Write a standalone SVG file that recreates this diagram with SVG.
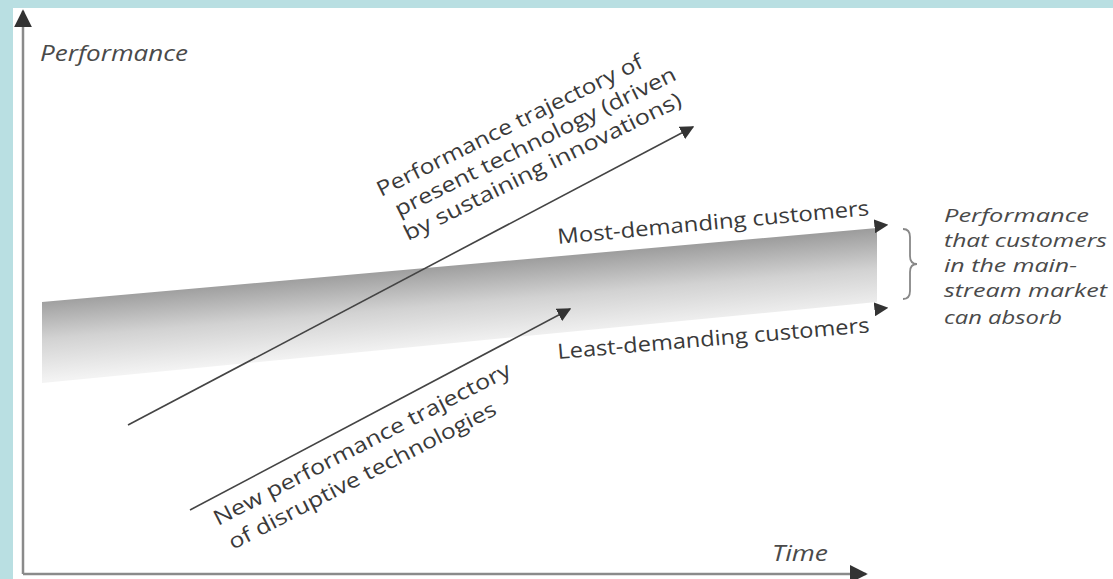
<svg xmlns="http://www.w3.org/2000/svg" width="1113" height="579" viewBox="0 0 1113 579">
<defs>
<style>
.lbl{font-family:"Open Sans","DejaVu Sans",sans-serif;font-size:21px;fill:#3a3a3a}
.it{font-family:"Open Sans","DejaVu Sans",sans-serif;font-style:italic;font-size:21px;fill:#4a4a4a}
.rt{font-family:"Open Sans","DejaVu Sans",sans-serif;font-style:italic;font-size:19px;fill:#4a4a4a}
.axis{stroke:#8a8a8a;stroke-width:2.5;fill:none}
.traj{stroke:#444;stroke-width:1.6;fill:none}
</style>
<marker id="ah" viewBox="0 0 10 10" refX="9" refY="5" markerWidth="14" markerHeight="14" markerUnits="userSpaceOnUse" orient="auto">
<path d="M0,0 L10,5 L0,10 z" fill="#333"/>
</marker>
<marker id="axh" viewBox="0 0 10 10" refX="9" refY="5" markerWidth="18" markerHeight="18" markerUnits="userSpaceOnUse" orient="auto">
<path d="M0,0 L10,5 L0,10 z" fill="#333"/>
</marker>
<linearGradient id="band" gradientUnits="userSpaceOnUse" x1="460" y1="262" x2="467" y2="345">
<stop offset="0" stop-color="#9a9a9a"/>
<stop offset="0.5" stop-color="#d2d2d2"/>
<stop offset="1" stop-color="#f3f3f3"/>
</linearGradient>
</defs>
<rect x="0" y="0" width="1113" height="579" fill="#b9dfe2"/>
<rect x="13" y="8" width="1100" height="571" fill="#ffffff"/>

<g id="band-area">
<polygon points="42,302 877,228 877,302 42,383" fill="url(#band)"/>
</g>

<g id="axes">
<line class="axis" x1="23" y1="574" x2="23" y2="11" marker-end="url(#axh)"/>
<line class="axis" x1="23" y1="574" x2="866" y2="574" marker-end="url(#axh)"/>
<text class="it" x="40" y="61" textLength="148" lengthAdjust="spacingAndGlyphs">Performance</text>
<text class="it" x="772" y="561" textLength="56" lengthAdjust="spacingAndGlyphs">Time</text>
</g>

<g id="connectors">
<line class="traj" x1="128" y1="425" x2="693" y2="127" marker-end="url(#ah)"/>
<line class="traj" x1="190" y1="510" x2="570" y2="309" marker-end="url(#ah)"/>
<line stroke="none" x1="877" y1="226" x2="887" y2="225" marker-end="url(#ah)"/>
<line stroke="none" x1="877" y1="309" x2="887" y2="308" marker-end="url(#ah)"/>
</g>

<g id="present-label">
<text class="lbl" transform="translate(381,197) rotate(-26.3)" textLength="294" lengthAdjust="spacingAndGlyphs">Performance trajectory of</text>
<text class="lbl" transform="translate(399,217) rotate(-26.3)" textLength="311" lengthAdjust="spacingAndGlyphs">present technology (driven</text>
<text class="lbl" transform="translate(408,241) rotate(-26.3)" textLength="307" lengthAdjust="spacingAndGlyphs">by sustaining innovations)</text>
</g>

<g id="disruptive-label">
<text class="lbl" transform="translate(218,526) rotate(-27.2)" textLength="331" lengthAdjust="spacingAndGlyphs">New performance trajectory</text>
<text class="lbl" transform="translate(233,550) rotate(-27.2)" textLength="298" lengthAdjust="spacingAndGlyphs">of disruptive technologies</text>
</g>

<g id="most-demanding">
<text class="lbl" transform="translate(558,244) rotate(-5.3)" textLength="313" lengthAdjust="spacingAndGlyphs">Most-demanding customers</text>
</g>
<g id="least-demanding">
<text class="lbl" transform="translate(558,359) rotate(-4.9)" textLength="313" lengthAdjust="spacingAndGlyphs">Least-demanding customers</text>
</g>

<g id="brace">
<path d="M903,229 Q910,229 910,237 L910,256 Q910,264 917,264 Q910,264 910,272 L910,291 Q910,299 903,299" stroke="#888" stroke-width="1.8" fill="none"/>
</g>

<g id="absorb-label">
<text class="rt" x="944" y="222" textLength="145" lengthAdjust="spacingAndGlyphs">Performance</text>
<text class="rt" x="944" y="247" textLength="163" lengthAdjust="spacingAndGlyphs">that customers</text>
<text class="rt" x="944" y="272" textLength="133" lengthAdjust="spacingAndGlyphs">in the main-</text>
<text class="rt" x="944" y="297" textLength="163" lengthAdjust="spacingAndGlyphs">stream market</text>
<text class="rt" x="944" y="324" textLength="118" lengthAdjust="spacingAndGlyphs">can absorb</text>
</g>
</svg>
